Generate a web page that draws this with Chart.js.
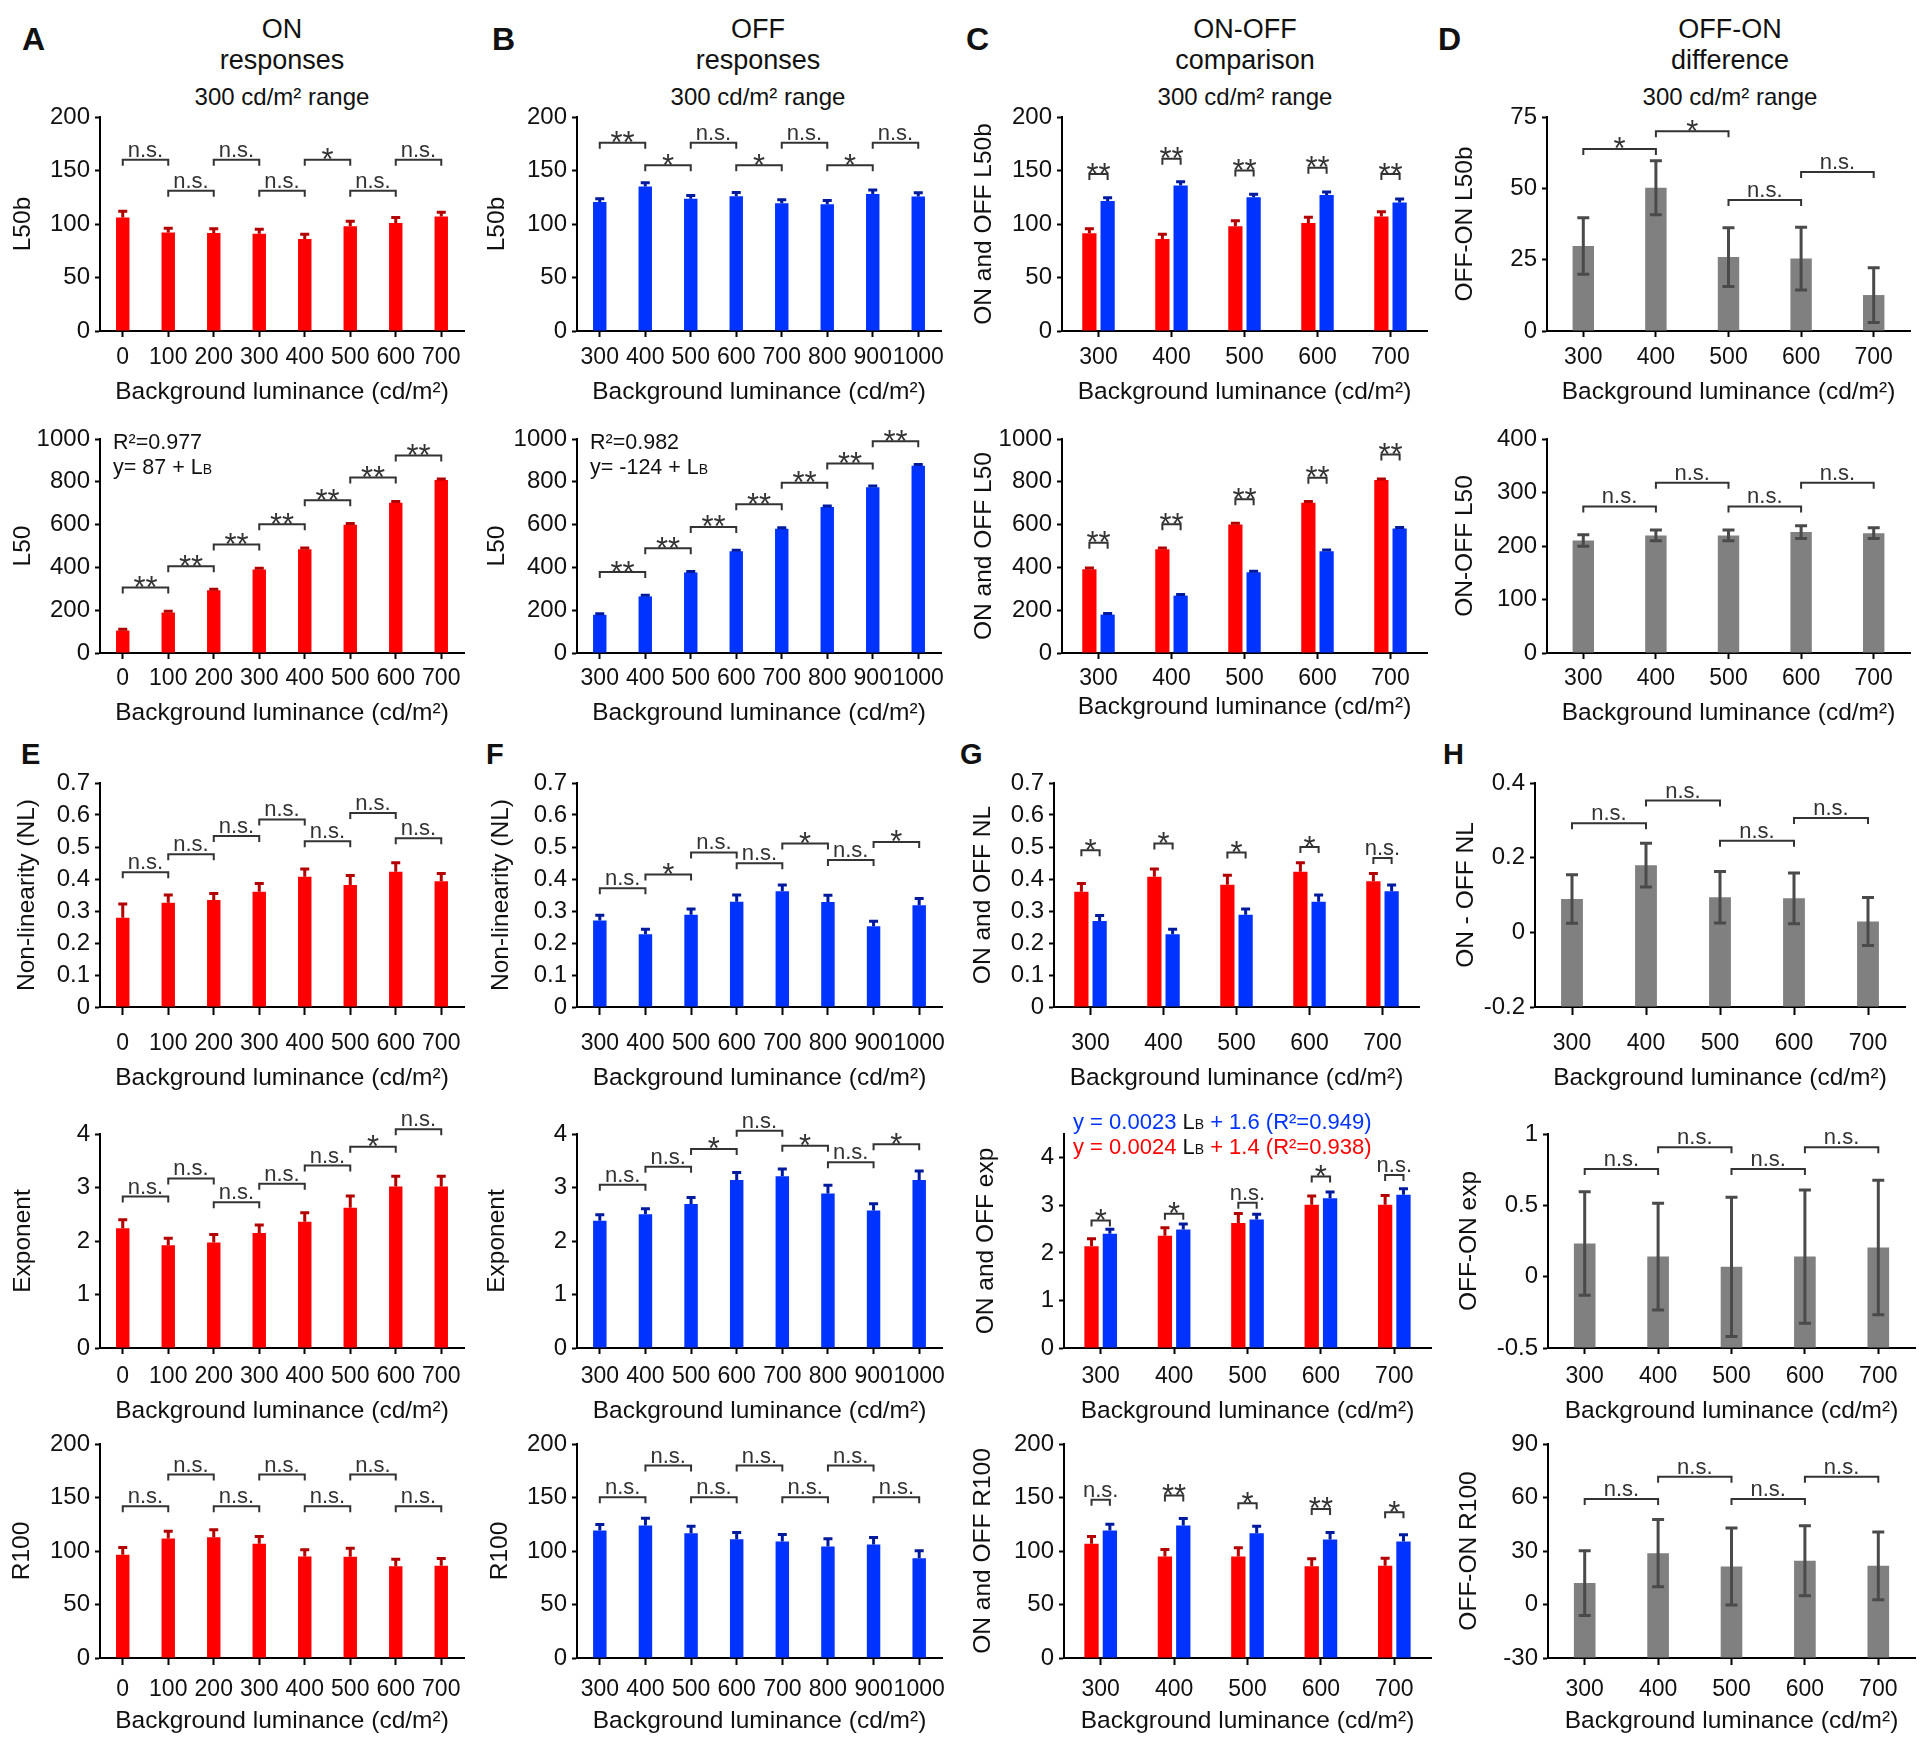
<!DOCTYPE html>
<html>
<head>
<meta charset="utf-8">
<title>ON and OFF responses vs background luminance</title>
<script src="https://cdn.jsdelivr.net/npm/chart.js@4.4.1/dist/chart.umd.min.js"></script>
<style>
  body { margin: 0; background: #fff; }
  #page { position: relative; width: 1920px; height: 1745px; overflow: hidden;
          font-family: 'Liberation Sans', Arial, Helvetica, sans-serif; color: #111; }
  .letter { position: absolute; font-weight: bold; }
  .ct { position: absolute; width: 400px; text-align: center; white-space: nowrap; }
  canvas { position: absolute; }
</style>
</head>
<body>
<div id="page">
  <div class="letter" style="left:22px;top:23px;font-size:32px;line-height:32px">A</div>
  <div class="letter" style="left:492px;top:23px;font-size:32px;line-height:32px">B</div>
  <div class="letter" style="left:966px;top:23px;font-size:32px;line-height:32px">C</div>
  <div class="letter" style="left:1438px;top:23px;font-size:32px;line-height:32px">D</div>
  <div class="letter" style="left:21px;top:740px;font-size:29px;line-height:29px">E</div>
  <div class="letter" style="left:486px;top:740px;font-size:29px;line-height:29px">F</div>
  <div class="letter" style="left:960px;top:740px;font-size:29px;line-height:29px">G</div>
  <div class="letter" style="left:1443px;top:740px;font-size:29px;line-height:29px">H</div>

  <div class="ct" style="left:82px;top:16px;font-size:27px;line-height:27px">ON</div>
  <div class="ct" style="left:82px;top:47px;font-size:27px;line-height:27px">responses</div>
  <div class="ct" style="left:82px;top:85px;font-size:24px;line-height:24px">300 cd/m² range</div>

  <div class="ct" style="left:558px;top:16px;font-size:27px;line-height:27px">OFF</div>
  <div class="ct" style="left:558px;top:47px;font-size:27px;line-height:27px">responses</div>
  <div class="ct" style="left:558px;top:85px;font-size:24px;line-height:24px">300 cd/m² range</div>

  <div class="ct" style="left:1045px;top:16px;font-size:27px;line-height:27px">ON-OFF</div>
  <div class="ct" style="left:1045px;top:47px;font-size:27px;line-height:27px">comparison</div>
  <div class="ct" style="left:1045px;top:85px;font-size:24px;line-height:24px">300 cd/m² range</div>

  <div class="ct" style="left:1530px;top:16px;font-size:27px;line-height:27px">OFF-ON</div>
  <div class="ct" style="left:1530px;top:47px;font-size:27px;line-height:27px">difference</div>
  <div class="ct" style="left:1530px;top:85px;font-size:24px;line-height:24px">300 cd/m² range</div>
</div>
<script>
// ---- categories (background luminance, cd/m2)
const lumOn = ['0', '100', '200', '300', '400', '500', '600', '700'];
const lumOff = ['300', '400', '500', '600', '700', '800', '900', '1000'];
const lumCmp = ['300', '400', '500', '600', '700'];

// ---- A: ON responses
const onL50b = [106, 92, 91.5, 91, 86, 98, 101, 107];
const onL50bErr = [6, 4, 4, 4, 4.5, 4.5, 5, 4];
const onL50bSig = [[0,1,160,'n.s.'],[1,2,131,'n.s.'],[2,3,160,'n.s.'],[3,4,131,'n.s.'],[4,5,160,'*'],[5,6,131,'n.s.'],[6,7,160,'n.s.']];
const onL50 = [105, 189, 293, 390, 485, 599, 702, 808];
const onL50Err = [6, 6, 5, 6, 6, 6, 6, 5];
const onL50Sig = [[0,1,306,'**'],[1,2,405,'**'],[2,3,507,'**'],[3,4,602,'**'],[4,5,714,'**'],[5,6,820,'**'],[6,7,923,'**']];

// ---- B: OFF responses
const offL50b = [120.6, 135, 123.6, 126, 119.3, 118.5, 128, 125.8];
const offL50bErr = [3, 3.5, 3, 3.5, 3.4, 3.5, 3.8, 3.4];
const offL50bSig = [[0,1,176,'**'],[1,2,155,'*'],[2,3,176,'n.s.'],[3,4,155,'*'],[4,5,176,'n.s.'],[5,6,155,'*'],[6,7,176,'n.s.']];
const offL50 = [178.5, 264.5, 376, 475, 580.6, 681.7, 774, 875];
const offL50Err = [5, 5, 5, 5, 5, 5, 6, 6];
const offL50Sig = [[0,1,378,'**'],[1,2,490,'**'],[2,3,589,'**'],[3,4,695,'**'],[4,5,796,'**'],[5,6,886,'**'],[6,7,989,'**']];

// ---- C: ON-OFF comparison
const cmpOnL50b = [91.3, 86, 98, 101, 107];
const cmpOnL50bErr = [4.3, 4.4, 5, 5.3, 4.4];
const cmpOffL50b = [121.5, 136, 125, 127, 120];
const cmpOffL50bErr = [3.1, 3.6, 2.7, 3, 3.4];
const cmpL50bSig = [[0,146.7,'**'],[1,161,'**'],[2,150,'**'],[3,152.6,'**'],[4,146.7,'**']];
const cmpOnL50 = [391.6, 485, 600.6, 702, 808];
const cmpOnL50Err = [6, 6, 6, 6, 5];
const cmpOffL50 = [179.4, 268, 377.5, 476, 582];
const cmpOffL50Err = [5, 5, 5, 5, 5];
const cmpL50Sig = [[0,515,'**'],[1,602,'**'],[2,718,'**'],[3,819,'**'],[4,928,'**']];

// ---- D: OFF-ON difference
const diffL50b = [29.8, 50.2, 25.9, 25.4, 12.6];
const diffL50bErr = [9.9, 9.5, 10.3, 11, 9.6];
const diffL50bSig = [[0,1,63.8,'*'],[1,2,70,'*'],[2,3,45.9,'n.s.'],[3,4,55.7,'n.s.']];
const diffL50 = [210.4, 219.8, 219.8, 226, 224];
const diffL50Err = [10.7, 10, 10, 12, 10];
const diffL50Sig = [[0,1,274,'n.s.'],[1,2,318,'n.s.'],[2,3,274,'n.s.'],[3,4,318,'n.s.']];

// ---- E: ON non-linearity, exponent, R100
const onNL = [0.279, 0.326, 0.334, 0.360, 0.407, 0.381, 0.423, 0.393];
const onNLErr = [0.043, 0.024, 0.021, 0.026, 0.024, 0.030, 0.028, 0.024];
const onNLSig = [[0,1,0.421,'n.s.'],[1,2,0.477,'n.s.'],[2,3,0.534,'n.s.'],[3,4,0.586,'n.s.'],[4,5,0.518,'n.s.'],[5,6,0.606,'n.s.'],[6,7,0.527,'n.s.']];
const onExp = [2.24, 1.92, 1.97, 2.15, 2.36, 2.62, 3.02, 3.02];
const onExpErr = [0.155, 0.13, 0.15, 0.15, 0.17, 0.22, 0.19, 0.19];
const onExpSig = [[0,1,2.83,'n.s.'],[1,2,3.17,'n.s.'],[2,3,2.725,'n.s.'],[3,4,3.07,'n.s.'],[4,5,3.41,'n.s.'],[5,6,3.76,'*'],[6,7,4.09,'n.s.']];
const onR100 = [96.4, 111.7, 112.9, 106.7, 94.9, 94.6, 85.8, 86.1];
const onR100Err = [6.9, 6.8, 6.9, 6.8, 6.2, 8, 6.6, 6.9];
const onR100Sig = [[0,1,141.8,'n.s.'],[1,2,171.4,'n.s.'],[2,3,141.8,'n.s.'],[3,4,171.4,'n.s.'],[4,5,141.8,'n.s.'],[5,6,171.4,'n.s.'],[6,7,141.8,'n.s.']];

// ---- F: OFF non-linearity, exponent, R100
const offNL = [0.270, 0.227, 0.288, 0.329, 0.362, 0.328, 0.252, 0.318];
const offNLErr = [0.017, 0.016, 0.018, 0.021, 0.019, 0.021, 0.016, 0.021];
const offNLSig = [[0,1,0.371,'n.s.'],[1,2,0.414,'*'],[2,3,0.483,'n.s.'],[3,4,0.449,'n.s.'],[4,5,0.511,'*'],[5,6,0.459,'n.s.'],[6,7,0.516,'*']];
const offExp = [2.38, 2.50, 2.69, 3.14, 3.21, 2.89, 2.57, 3.14];
const offExpErr = [0.11, 0.105, 0.125, 0.14, 0.137, 0.15, 0.125, 0.17];
const offExpSig = [[0,1,3.05,'n.s.'],[1,2,3.39,'n.s.'],[2,3,3.72,'*'],[3,4,4.06,'n.s.'],[4,5,3.78,'*'],[5,6,3.47,'n.s.'],[6,7,3.81,'*']];
const offR100 = [119.1, 123.8, 116.6, 111, 108.9, 104.2, 106.1, 93.3];
const offR100Err = [5.6, 6.8, 6.6, 6.3, 6.5, 7.2, 6.5, 6.9];
const offR100Sig = [[0,1,150.2,'n.s.'],[1,2,179.8,'n.s.'],[2,3,150.2,'n.s.'],[3,4,179.8,'n.s.'],[4,5,150.2,'n.s.'],[5,6,179.8,'n.s.'],[6,7,150.2,'n.s.']];

// ---- G: ON vs OFF comparison
const cmpOnNL = [0.360, 0.407, 0.382, 0.423, 0.393];
const cmpOnNLErr = [0.026, 0.024, 0.030, 0.028, 0.024];
const cmpOffNL = [0.269, 0.227, 0.288, 0.329, 0.362];
const cmpOffNLErr = [0.017, 0.016, 0.018, 0.021, 0.019];
const cmpNLSig = [[0,0.490,'*'],[1,0.511,'*'],[2,0.483,'*'],[3,0.500,'*'],[4,0.466,'n.s.']];
const cmpOnExp = [2.14, 2.36, 2.63, 3.01, 3.01];
const cmpOnExpErr = [0.156, 0.17, 0.196, 0.188, 0.196];
const cmpOffExp = [2.40, 2.49, 2.70, 3.15, 3.22];
const cmpOffExpErr = [0.098, 0.119, 0.113, 0.133, 0.128];
const cmpExpSig = [[0,2.683,'*'],[1,2.823,'*'],[2,3.054,'n.s.'],[3,3.608,'*'],[4,3.636,'n.s.']];
const cmpOnR100 = [106.7, 94.9, 94.9, 85.8, 86.2];
const cmpOnR100Err = [6.8, 6.5, 8.1, 6.9, 7.1];
const cmpOffR100 = [119.1, 123.8, 116.6, 110.7, 108.9];
const cmpOffR100Err = [5.9, 6.5, 6.6, 6.6, 6.2];
const cmpR100Sig = [[0,148,'n.s.'],[1,151.8,'**'],[2,144.6,'*'],[3,139.3,'**'],[4,136.2,'*']];

// ---- H: differences
const diffNL = [0.089, 0.180, 0.094, 0.091, 0.029];
const diffNLErr = [0.065, 0.0585, 0.069, 0.068, 0.064];
const diffNLSig = [[0,1,0.292,'n.s.'],[1,2,0.353,'n.s.'],[2,3,0.2455,'n.s.'],[3,4,0.306,'n.s.']];
const diffExp = [0.232, 0.141, 0.069, 0.141, 0.204];
const diffExpErr = [0.363, 0.374, 0.488, 0.467, 0.471];
const diffExpSig = [[0,1,0.754,'n.s.'],[1,2,0.908,'n.s.'],[2,3,0.754,'n.s.'],[3,4,0.908,'n.s.']];
const diffR100 = [12, 28.8, 21.3, 24.5, 21.7];
const diffR100Err = [18.1, 18.9, 21.6, 19.6, 19];
const diffR100Sig = [[0,1,59.2,'n.s.'],[1,2,71.7,'n.s.'],[2,3,59.2,'n.s.'],[3,4,71.7,'n.s.']];

// ---- fitted-line notes
const onFitNote = [['R²=0.977'], ['y= 87 + L', 'B']];
const offFitNote = [['R²=0.982'], ['y= -124 + L', 'B']];
const expFitOff = ['y = 0.0023 ', 'B', ' + 1.6 (R²=0.949)'];
const expFitOn = ['y = 0.0024 ', 'B', ' + 1.4 (R²=0.938)'];

const FONT = "'Liberation Sans', Arial, Helvetica, sans-serif";
const XTITLE = 'Background luminance (cd/m²)';
const XTICK_SIZE = 23, YTICK_SIZE = 24, TITLE_SIZE = 24.5;
Chart.defaults.font.family = FONT;
Chart.defaults.color = '#111';

const KINDS = {
    red:  { bar: '#ff0000', err: '#b30000', cap: 9,  both: false },
    blue: { bar: '#0033ff', err: '#001a9e', cap: 9,  both: false },
    gray: { bar: '#808080', err: '#4a4a4a', cap: 12, both: true }
};

// row geometry (page px): plot top / bottom, x tick length, label and title offsets
const R1 = { top: 117,  bottom: 331,  tickLen: 6, tickOff: 26.5, titleOff: 61 };
const R2 = { top: 439,  bottom: 653,  tickLen: 6, tickOff: 26,   titleOff: 60 };
const R3 = { top: 783,  bottom: 1007, tickLen: 8, tickOff: 37,   titleOff: 71.5 };
const R4 = { top: 1134, bottom: 1348, tickLen: 6, tickOff: 28.5, titleOff: 63 };
const R5 = { top: 1444, bottom: 1658, tickLen: 7, tickOff: 32,   titleOff: 63.5 };

const lbNotes = (lines) => [
    { dx: 13, dy: 10, parts: [[lines[0][0]]] },
    { dx: 13, dy: 35, parts: [[lines[1][0]], [lines[1][1], null, true]] }
];
const eqNote = (dy, color, t) => ({
    dx: 9, dy, color, size: 22,
    parts: [[t[0]], ['L', '#111'], [t[1], '#111', true], [t[2]]]
});

const panels = [
    { id: 'A1', row: R1, left: 100, right: 464, labels: lumOn, sets: [['red', onL50b, onL50bErr]], y: [0, 200, 50], yTitle: 'L50b', yTitleX: 23, sig: onL50bSig },
    { id: 'A2', row: R2, left: 100, right: 464, labels: lumOn, sets: [['red', onL50, onL50Err]], y: [0, 1000, 200], yTitle: 'L50', yTitleX: 23, sig: onL50Sig, notes: lbNotes(onFitNote) },
    { id: 'B1', row: R1, left: 577, right: 941, labels: lumOff, sets: [['blue', offL50b, offL50bErr]], y: [0, 200, 50], yTitle: 'L50b', yTitleX: 497, sig: offL50bSig },
    { id: 'B2', row: R2, left: 577, right: 941, labels: lumOff, sets: [['blue', offL50, offL50Err]], y: [0, 1000, 200], yTitle: 'L50', yTitleX: 497, sig: offL50Sig, notes: lbNotes(offFitNote) },
    { id: 'C1', row: R1, left: 1062, right: 1427, labels: lumCmp, sets: [['red', cmpOnL50b, cmpOnL50bErr], ['blue', cmpOffL50b, cmpOffL50bErr]], y: [0, 200, 50], yTitle: 'ON and OFF L50b', yTitleX: 984, pairSig: cmpL50bSig },
    { id: 'C2', row: R2, left: 1062, right: 1427, labels: lumCmp, sets: [['red', cmpOnL50, cmpOnL50Err], ['blue', cmpOffL50, cmpOffL50Err]], y: [0, 1000, 200], yTitle: 'ON and OFF L50', yTitleX: 984, pairSig: cmpL50Sig, titleOff: 54 },
    { id: 'D1', row: R1, left: 1547, right: 1910, labels: lumCmp, sets: [['gray', diffL50b, diffL50bErr]], y: [0, 75, 25], yTitle: 'OFF-ON L50b', yTitleX: 1465, sig: diffL50bSig },
    { id: 'D2', row: R2, left: 1547, right: 1910, labels: lumCmp, sets: [['gray', diffL50, diffL50Err]], y: [0, 400, 100], yTitle: 'ON-OFF L50', yTitleX: 1465, sig: diffL50Sig },

    { id: 'E3', row: R3, left: 100, right: 464, labels: lumOn, sets: [['red', onNL, onNLErr]], y: [0, 0.7, 0.1], yTitle: 'Non-linearity (NL)', yTitleX: 27, sig: onNLSig },
    { id: 'E4', row: R4, left: 100, right: 464, labels: lumOn, sets: [['red', onExp, onExpErr]], y: [0, 4, 1], yTitle: 'Exponent', yTitleX: 23, sig: onExpSig },
    { id: 'E5', row: R5, left: 100, right: 464, labels: lumOn, sets: [['red', onR100, onR100Err]], y: [0, 200, 50], yTitle: 'R100', yTitleX: 22, sig: onR100Sig },
    { id: 'F3', row: R3, left: 577, right: 942, labels: lumOff, sets: [['blue', offNL, offNLErr]], y: [0, 0.7, 0.1], yTitle: 'Non-linearity (NL)', yTitleX: 501, sig: offNLSig },
    { id: 'F4', row: R4, left: 577, right: 942, labels: lumOff, sets: [['blue', offExp, offExpErr]], y: [0, 4, 1], yTitle: 'Exponent', yTitleX: 497, sig: offExpSig },
    { id: 'F5', row: R5, left: 577, right: 942, labels: lumOff, sets: [['blue', offR100, offR100Err]], y: [0, 200, 50], yTitle: 'R100', yTitleX: 500, sig: offR100Sig },
    { id: 'G3', row: R3, left: 1054, right: 1419, labels: lumCmp, sets: [['red', cmpOnNL, cmpOnNLErr], ['blue', cmpOffNL, cmpOffNLErr]], y: [0, 0.7, 0.1], yTitle: 'ON and OFF NL', yTitleX: 983, pairSig: cmpNLSig },
    { id: 'G4', row: R4, left: 1064, right: 1431, labels: lumCmp, sets: [['red', cmpOnExp, cmpOnExpErr], ['blue', cmpOffExp, cmpOffExpErr]], y: [0, 4.5, 1], yTitle: 'ON and OFF exp', yTitleX: 986, pairSig: cmpExpSig,
      notes: [eqNote(-5, '#0033ff', expFitOff), eqNote(20, '#ff0000', expFitOn)] },
    { id: 'G5', row: R5, left: 1064, right: 1431, labels: lumCmp, sets: [['red', cmpOnR100, cmpOnR100Err], ['blue', cmpOffR100, cmpOffR100Err]], y: [0, 200, 50], yTitle: 'ON and OFF R100', yTitleX: 983, pairSig: cmpR100Sig },
    { id: 'H3', row: R3, left: 1535, right: 1905, labels: lumCmp, sets: [['gray', diffNL, diffNLErr]], y: [-0.2, 0.4, 0.2], yTitle: 'ON - OFF NL', yTitleX: 1466, sig: diffNLSig },
    { id: 'H4', row: R4, left: 1548, right: 1915, labels: lumCmp, sets: [['gray', diffExp, diffExpErr]], y: [-0.5, 1, 0.5], yTitle: 'OFF-ON exp', yTitleX: 1469, sig: diffExpSig },
    { id: 'H5', row: R5, left: 1548, right: 1915, labels: lumCmp, sets: [['gray', diffR100, diffR100Err]], y: [-30, 90, 30], yTitle: 'OFF-ON R100', yTitleX: 1469, sig: diffR100Sig }
];

const panelByCanvas = {};

// error bars: mean + SEM (upper only) for red/blue, +/- for gray
const errorBarPlugin = {
    id: 'errorBars',
    afterDatasetsDraw(chart) {
        const { ctx } = chart;
        const yScale = chart.scales.y;
        chart.data.datasets.forEach((ds, di) => {
            if (!ds.errors) return;
            const k = KINDS[ds.kind];
            chart.getDatasetMeta(di).data.forEach((bar, i) => {
                const v = ds.data[i], e = ds.errors[i];
                const yHi = yScale.getPixelForValue(v + e);
                const yLo = k.both ? yScale.getPixelForValue(v - e) : bar.y;
                ctx.save();
                ctx.strokeStyle = k.err;
                ctx.lineWidth = 3;
                ctx.beginPath();
                ctx.moveTo(bar.x, yLo);
                ctx.lineTo(bar.x, yHi);
                ctx.moveTo(bar.x - k.cap / 2, yHi);
                ctx.lineTo(bar.x + k.cap / 2, yHi);
                if (k.both) {
                    ctx.moveTo(bar.x - k.cap / 2, yLo);
                    ctx.lineTo(bar.x + k.cap / 2, yLo);
                }
                ctx.stroke();
                ctx.restore();
            });
        });
    }
};

// significance brackets and fitted-line text
const annotationPlugin = {
    id: 'sigAnnotations',
    afterDraw(chart) {
        const p = panelByCanvas[chart.canvas.id];
        if (!p) return;
        const { ctx, chartArea } = chart;
        const xs = chart.scales.x, ys = chart.scales.y;

        const items = (p.sig || []).map(([i, j, level, text]) =>
            [xs.getPixelForValue(i), xs.getPixelForValue(j), level, text]);
        (p.pairSig || []).forEach(([i, level, text]) => {
            items.push([chart.getDatasetMeta(0).data[i].x, chart.getDatasetMeta(1).data[i].x, level, text]);
        });

        ctx.save();
        items.forEach(([x1, x2, level, text]) => {
            const yp = ys.getPixelForValue(level);
            ctx.strokeStyle = '#333';
            ctx.lineWidth = 2;
            ctx.beginPath();
            ctx.moveTo(x1, yp + 6);
            ctx.lineTo(x1, yp);
            ctx.lineTo(x2, yp);
            ctx.lineTo(x2, yp + 6);
            ctx.stroke();

            const stars = text.indexOf('*') >= 0;
            ctx.fillStyle = '#333';
            ctx.textAlign = 'center';
            ctx.textBaseline = 'alphabetic';
            ctx.font = (stars ? '31px ' : '22px ') + FONT;
            ctx.fillText(text, (x1 + x2) / 2, stars ? yp + 10.5 : yp - 3);
        });

        (p.notes || []).forEach(n => {
            let x = chartArea.left + n.dx;
            const y = chartArea.top + n.dy;
            const size = n.size || 21.5;
            ctx.textAlign = 'left';
            ctx.textBaseline = 'alphabetic';
            n.parts.forEach(([text, color, small]) => {
                ctx.font = (small ? Math.round(size * 0.65) : size) + 'px ' + FONT;
                ctx.fillStyle = color || n.color || '#111';
                ctx.fillText(text, x, y);
                x += ctx.measureText(text).width;
            });
        });
        ctx.restore();
    }
};

Chart.register(errorBarPlugin, annotationPlugin);

const page = document.getElementById('page');
const PAD_T = 50, PAD_R = 30, Y_W = 100, X_H = 95;

panels.forEach(p => {
    const w = p.right - p.left;
    const h = p.row.bottom - p.row.top;
    const canvas = document.createElement('canvas');
    canvas.id = 'panel' + p.id;
    canvas.width = Y_W + w + PAD_R;
    canvas.height = PAD_T + h + X_H;
    canvas.style.left = (p.left - Y_W) + 'px';
    canvas.style.top = (p.row.top - PAD_T) + 'px';
    page.appendChild(canvas);
    panelByCanvas[canvas.id] = p;

    const single = p.sets.length === 1;
    const tickLen = p.row.tickLen;
    const tickPad = p.row.tickOff - tickLen - 0.6 * XTICK_SIZE;
    const titleOff = p.titleOff || p.row.titleOff;
    const fmt = v => String(Math.round(v * 1000) / 1000);

    new Chart(canvas, {
        type: 'bar',
        data: {
            labels: p.labels,
            datasets: p.sets.map(([kind, values, errs]) => ({
                data: values,
                errors: errs,
                kind: kind,
                backgroundColor: KINDS[kind].bar,
                borderWidth: 0,
                barPercentage: single ? 0.295 : 0.78,
                categoryPercentage: single ? 1 : 0.5,
                base: p.y[0]
            }))
        },
        options: {
            responsive: false,
            animation: false,
            events: [],
            layout: { padding: { left: 0, top: PAD_T, right: PAD_R, bottom: 0 } },
            plugins: { legend: { display: false }, tooltip: { enabled: false } },
            scales: {
                x: {
                    type: 'category',
                    offset: true,
                    grid: { display: true, drawOnChartArea: false, drawTicks: true, offset: false,
                            tickLength: tickLen, tickColor: '#000', tickWidth: 2 },
                    border: { display: true, color: '#000', width: 2 },
                    ticks: { autoSkip: false, maxRotation: 0, minRotation: 0, padding: tickPad,
                             font: { size: XTICK_SIZE }, color: '#111' },
                    title: { display: true, text: XTITLE, font: { size: TITLE_SIZE }, color: '#111',
                             padding: { top: 0, bottom: X_H - titleOff - 0.6 * TITLE_SIZE } },
                    afterFit: s => { s.height = X_H; }
                },
                y: {
                    min: p.y[0],
                    max: p.y[1],
                    grid: { display: true, drawOnChartArea: false, drawTicks: true,
                            tickLength: 5, tickColor: '#000', tickWidth: 2 },
                    border: { display: true, color: '#000', width: 2 },
                    ticks: { stepSize: p.y[2], includeBounds: false, padding: 5,
                             font: { size: YTICK_SIZE }, color: '#111', callback: fmt },
                    title: { display: true, text: p.yTitle, font: { size: TITLE_SIZE }, color: '#111',
                             padding: { top: p.yTitleX - (p.left - Y_W) - 0.6 * TITLE_SIZE, bottom: 0 } },
                    afterFit: s => { s.width = Y_W; }
                }
            }
        }
    });
});
</script>
</body>
</html>
